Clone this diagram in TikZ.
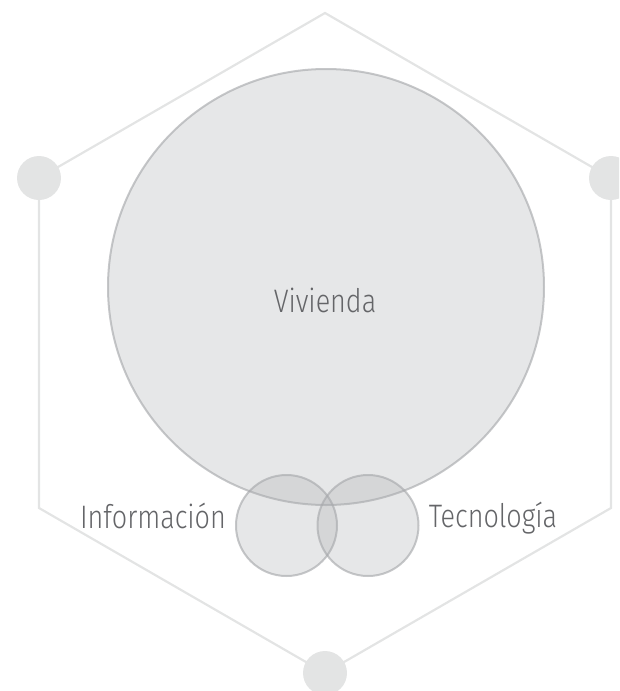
\documentclass[tikz,border=0pt]{standalone}
\usepackage{fontspec}
\setmainfont{Fira Sans}[UprightFont={* Light},FakeStretch=0.83]
\usepackage{xcolor}
\usetikzlibrary{positioning}

\definecolor{linegray}{HTML}{E3E4E4}
\definecolor{dotgray}{HTML}{E3E4E4}
\definecolor{setgray}{HTML}{A7A9AC}
\definecolor{txtgray}{HTML}{646568}

\begin{document}
\begin{tikzpicture}[x=1pt,y=-1pt,
  edge/.style={draw=linegray,line width=2.2pt},
  dot/.style={circle,fill=dotgray,minimum size=44pt,inner sep=0pt},
  setc/.style={circle,fill=setgray,fill opacity=0.28,draw=setgray,draw opacity=0.65,line width=2pt,inner sep=0pt},
  every node/.style={font=\fontsize{32.5}{38}\selectfont,text=txtgray}
]
  \useasboundingbox (0,0) rectangle (619,691);
  \clip (0,0) rectangle (619,691);
  % hexagon corners
  \coordinate (top) at (325,13);
  \coordinate (ul) at (39,178);
  \coordinate (ur) at (611,178);
  \coordinate (ll) at (39,508);
  \coordinate (lr) at (611,508);
  \coordinate (bot) at (325,673);
  \draw[edge] (top) -- (ur) -- (lr) -- (bot) -- (ll) -- (ul) -- cycle;
  \node[dot] (d1) at (ul) {};
  \node[dot] (d2) at (ur) {};
  \node[dot] (d3) at (bot) {};
  % sets
  \node[setc,minimum size=436pt] (viv) at (326,287) {};
  \node[setc,minimum size=101pt] (inf) at (286.5,525.5) {};
  \node[setc,minimum size=101pt] (tec) at (368,525.5) {};
  \node[anchor=base] (lviv) at (325,312) {Vivienda};
  \node[anchor=base] (linf) at (153,528) {Información};
  \node[anchor=base] (ltec) at (493,527) {Tecnología};
\end{tikzpicture}
\end{document}
